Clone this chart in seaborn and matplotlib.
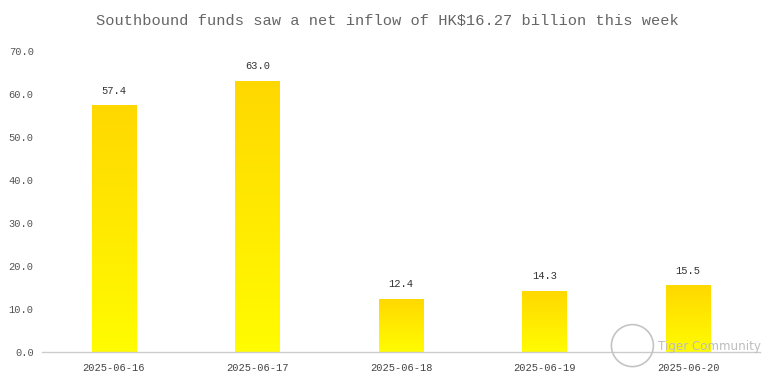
import numpy as np
import pandas as pd
import matplotlib
matplotlib.use('Agg')
import matplotlib.pyplot as plt
from matplotlib.colors import LinearSegmentedColormap
from matplotlib.patches import Circle
import seaborn as sns

# Data
dates = ['2025-06-16', '2025-06-17', '2025-06-18', '2025-06-19', '2025-06-20']
inflow = [57.4, 63.0, 12.4, 14.3, 15.5]
title = 'Southbound funds saw a net inflow of HK$16.27 billion this week'

df = pd.DataFrame({'date': dates, 'inflow': inflow})

sns.set_style('white')
plt.rcParams['font.family'] = ['Liberation Mono', 'DejaVu Sans Mono']

fig = plt.figure(figsize=(7.75, 3.84), dpi=100)
ax = fig.add_axes([0.0542, 0.0833, 0.9264, 0.7837])

sns.barplot(data=df, x='date', y='inflow', ax=ax, width=0.31, color='#FFE000')

# yellow gradient fill, gold at the top fading to bright yellow at the bottom
grad = LinearSegmentedColormap.from_list('gold', ['#FFFC00', '#FFD800'])
for p in list(ax.patches):
    x0, y0 = p.get_x(), p.get_y()
    w, h = p.get_width(), p.get_height()
    img = ax.imshow(np.linspace(0, 1, 256).reshape(-1, 1), cmap=grad, origin='lower',
                    extent=[x0, x0 + w, y0, y0 + h], aspect='auto', zorder=2)
    img.set_clip_path(p)
    p.set_facecolor('none')
    p.set_edgecolor('none')
    ax.annotate(f'{h:.1f}', (x0 + w / 2, h), xytext=(0, 7), textcoords='offset points',
                ha='center', va='bottom', fontsize=7.5, color='#333333')

ax.set_xlim(-0.5, len(dates) - 0.5)
ax.set_ylim(0, 70)
ax.set_yticks(np.arange(0, 71, 10))
ax.set_yticklabels([f'{v:.1f}' for v in np.arange(0, 71, 10)])
ax.set_xlabel('')
ax.set_ylabel('')

for s in ['top', 'right', 'left']:
    ax.spines[s].set_visible(False)
ax.spines['bottom'].set_color('#CCCCCC')
ax.spines['bottom'].set_linewidth(1)

ax.tick_params(axis='x', which='major', length=0, pad=8, labelsize=7.5, labelcolor='#444444')
ax.set_xticks(np.arange(-0.5, len(dates), 1), minor=True)
ax.tick_params(axis='x', which='minor', length=4, color='#CCCCCC', width=1)
ax.tick_params(axis='y', length=0, pad=6, labelsize=7.5, labelcolor='#555555')

fig.text(0.5, 0.945, title, ha='center', va='center', fontsize=11.1, color='#666666')

# watermark
fig.text(0.849, 0.098, 'Tiger Community', ha='left', va='center', fontsize=8.6,
         color='#BDBDBD', family='DejaVu Sans')
logo = Circle((0.816 * 7.75, 0.10 * 3.84), 0.21, transform=fig.dpi_scale_trans,
              fill=False, ec='#C4C4C4', lw=1.2)
fig.add_artist(logo)

fig.savefig('out.png', dpi=100)
